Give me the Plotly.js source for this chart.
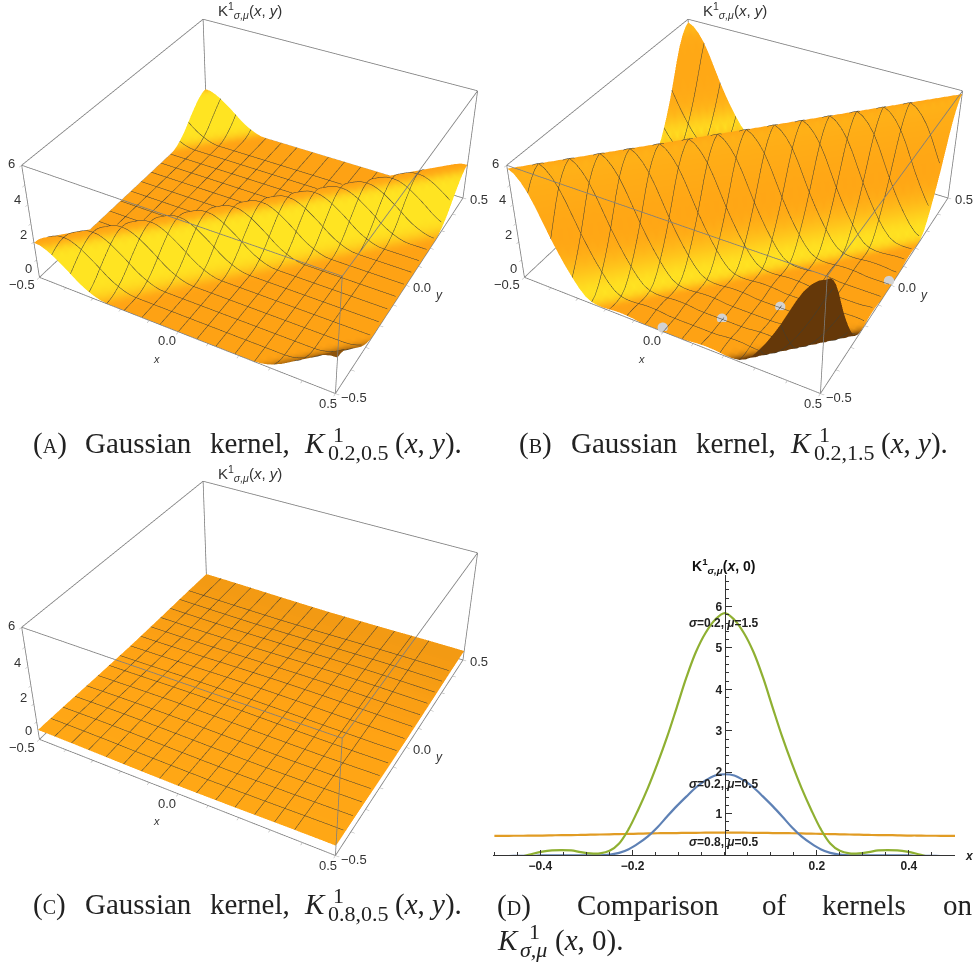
<!DOCTYPE html>
<html>
<head>
<meta charset="utf-8">
<script src="https://cdn.plot.ly/plotly-3.0.1.min.js"></script>
<style>
html,body{margin:0;padding:0;background:#fff}
#page{position:relative;width:977px;height:965px;overflow:hidden}
.clip{position:absolute;overflow:hidden;z-index:1}
.clip>div{position:absolute}
#c{position:absolute;left:0;top:0;width:977px;height:965px;z-index:2;pointer-events:none}
</style>
</head>
<body>
<div id="page">
<div class="clip" id="wa"><div id="pa"></div></div>
<div class="clip" id="wb"><div id="pb"></div></div>
<div class="clip" id="wc"><div id="pc"></div></div>
<div id="c"></div>
</div>
<script>
// kernel height against lag |x-y| in steps of 1/48
const lagSteps = [0,1,2,3,4,5,6,7,8,9,10,11,12,13,14,15,16,17,18,19,20,21,22,23,24];
const kernelBlue  = [1.95,1.92,1.80,1.63,1.41,1.18,0.93,0.67,0.45,0.28,0.14,0.05,0.01,-0.01,-0.01,-0.01,-0.01,-0.01,-0.01,-0.01,-0.02,-0.02,-0.02,-0.03,-0.03];
const kernelGreen = [5.84,5.68,5.36,4.90,4.28,3.56,2.85,2.21,1.62,1.10,0.63,0.28,0.10,0.04,0.04,0.07,0.11,0.12,0.11,0.08,0.03,-0.03,-0.07,-0.10,-0.11];
const kernelOrange= [0.54,0.54,0.54,0.535,0.535,0.53,0.53,0.525,0.52,0.515,0.51,0.505,0.50,0.495,0.49,0.485,0.48,0.48,0.475,0.47,0.47,0.465,0.465,0.46,0.46];

const toneAFront = [.55,.62,.88,1,1,1,1,1,1,.95,.85,.7,.58,.52,.5,.5,.5,.5,.5,.5,.5,.5,.5,.5,.5,.5,.5,.5,.5,.5,.5,.5,.5,.5,.5,.5,.5,.45,.35,.3,.25,.22,.2,.2,.18,.18,.15,.15,.15];
const toneABack  = [.55,.5,.5,.5,.5,.5,.5,.5,.5,.5,.5,.5,.5,.5,.5,.5,.5,.5,.5,.5,.5,.5,.5,.5,.5,.5,.5,.5,.5,.5,.5,.5,.5,.5,.5,.5,.52,.6,.8,.95,1,1,1,1,1,1,1,.9,.6];
const toneBFront = [.55,.62,.6,.58,.56,.54,.53,.55,.65,.8,.95,1,.9,.7,.55,.5,.5,.5,.5,.5,.5,.5,.5,.5,.5,.5,.5,.5,.5,.5,.5,.5,.5,.5,.45,.25,.03,.03,.03,.03,.03,.03,.03,.03,.03,.03,.03,.03,.03];
const toneBBack  = [.55,.5,.5,.5,.5,.5,.5,.5,.5,.5,.5,.5,.5,.5,.5,.5,.5,.5,.5,.5,.5,.5,.5,.5,.5,.5,.5,.5,.5,.5,.5,.5,.5,.5,.5,.5,.55,.7,.95,.85,.65,.58,.55,.55,.55,.55,.58,.7,.6];
// panel C's tone from the front row to the back row
const toneCRow = [.54,.54,.54,.54,.535,.535,.535,.53,.53,.53,.525,.525,.525,.52,.52,.52,.515,.515,.515,.51,.51,.51,.505,.505,.5,.5,.5,.495,.495,.49,.49,.49,.485,.485,.485,.48,.48,.48,.475,.475,.475,.47,.47,.47,.47,.465,.465,.465,.465];

// small pale gaps in panel B's surface
const gapX = [-0.006,0.126,0.252,0.49];
const gapY = [-0.494,-0.38,-0.254,0.005];
const gapZ = [0.14,0.14,0.14,0.14];

const zTicks = ['6','4','2','0'];
const xyTicks = ['−0.5','0.0','0.5'];
const dXTicks = [-0.4,-0.2,0.2,0.4];
const dXTickText = ['−0.4','−0.2','0.2','0.4'];
const dYTicks = [1,2,3,4,5,6];
const curveLabels = ['<i>σ</i>=0.2, <i>μ</i>=1.5','<i>σ</i>=0.2, <i>μ</i>=0.5','<i>σ</i>=0.8, <i>μ</i>=0.5'];
const xyRange = [-0.5,0.5];
const zRange = [0,6];

const W = 977, H = 965, S = 906;
const axisGrid = Array.from({length:49},(_,i)=>-0.5+i/48);
const lagIndex = k => { const m=((k%48)+48)%48; return Math.min(m,48-m); };
const surfaceZ = prof => axisGrid.map((_,j)=>axisGrid.map((_,i)=>Math.max(prof[lagIndex(i-j)],0.02)));
const surfaceTone = (front,back) => axisGrid.map((_,j)=>axisGrid.map((_,i)=>i>=j?front[i-j]:back[j-i]));
const rowTone = row => axisGrid.map((_,j)=>axisGrid.map(()=>row[j]));

const meshLine = {show:true,start:-0.4375,end:0.4375,size:0.0625,color:'#3f3d33',width:1};
function surf(prof,tone){
  return {type:'surface',x:axisGrid,y:axisGrid,z:surfaceZ(prof),surfacecolor:tone,
    cmin:0,cmax:1,showscale:false,hoverinfo:'skip',
    colorscale:[[0,'#5c3208'],[0.5,'#ffa214'],[1,'#ffe422']],
    lighting:{ambient:1,diffuse:0,specular:0,roughness:1,fresnel:0},
    contours:{x:meshLine,y:meshLine,z:{show:false}}};
}
// the twelve edges of the bounding box, taken from the axis ranges
function boxEdges(){
  const [a,b]=xyRange,[l,h]=zRange,X=[],Y=[],Z=[];
  const seg=(p,q)=>{X.push(p[0],q[0],null);Y.push(p[1],q[1],null);Z.push(p[2],q[2],null);};
  [[a,a],[b,a],[b,b],[a,b]].forEach((c,i,all)=>{
    const n=all[(i+1)%4];
    seg([c[0],c[1],l],[n[0],n[1],l]);
    seg([c[0],c[1],h],[n[0],n[1],h]);
    seg([c[0],c[1],l],[c[0],c[1],h]);
  });
  return {type:'scatter3d',mode:'lines',x:X,y:Y,z:Z,connectgaps:false,line:{color:'#7d7d7d',width:1.6},hoverinfo:'skip',showlegend:false};
}
function axis3(range,dtick){
  return {range,dtick,title:{text:''},showticklabels:false,showgrid:false,zeroline:false,showspikes:false,showbackground:false,
    showline:false,ticks:'outside',ticklen:3,tickcolor:'#aaa',autorange:false};
}
function panel(id,wrap,traces,cx,cy,rect){
  const w=document.getElementById(wrap), p=document.getElementById(id);
  w.style.left=rect[0]+'px';w.style.top=rect[1]+'px';w.style.width=(rect[2]-rect[0])+'px';w.style.height=(rect[3]-rect[1])+'px';
  p.style.left=(cx-S/2-rect[0])+'px';p.style.top=(cy-S/2-rect[1])+'px';p.style.width=S+'px';p.style.height=S+'px';
  Plotly.newPlot(id,traces.concat([boxEdges()]),{width:S,height:S,margin:{l:0,r:0,t:0,b:0},paper_bgcolor:'#fff',showlegend:false,
    scene:{domain:{x:[0,1],y:[0,1]},aspectmode:'manual',aspectratio:{x:1,y:1,z:0.42},
      camera:{eye:{x:1.3,y:-2.4,z:2},center:{x:0,y:0,z:0},up:{x:0,y:0,z:1},projection:{type:'perspective'}},
      xaxis:axis3(xyRange,0.1),yaxis:axis3(xyRange,0.1),zaxis:axis3(zRange,1)}},{displayModeBar:false});
}
panel('pa','wa',[surf(kernelBlue,surfaceTone(toneAFront,toneABack))],261,183,[0,0,488,416]);
panel('pb','wb',[surf(kernelGreen,surfaceTone(toneBFront,toneBBack)),
  {type:'scatter3d',mode:'markers',x:gapX,y:gapY,z:gapZ,marker:{size:6,color:'#d2d2d2',line:{width:0}},hoverinfo:'skip',showlegend:false}],746,183,[488,0,977,416]);
panel('pc','wc',[surf(kernelOrange,rowTone(toneCRow))],261,645,[0,466,488,880]);

const d = lagSteps.slice().reverse().map(s=>-s/48).concat(lagSteps.slice(1).map(s=>s/48));
const mirror = a => a.slice().reverse().concat(a.slice(1));
const greenShown = mirror(kernelGreen).map((v,i,a)=>(i===0||i===a.length-1)?null:v);
const traces = [
  {type:'scatter',mode:'lines',x:d,y:mirror(kernelOrange),cliponaxis:false,line:{color:'#e19c24',width:2.2,shape:'spline'},showlegend:false},
  {type:'scatter',mode:'lines',x:d,y:mirror(kernelBlue),cliponaxis:false,line:{color:'#5e81b5',width:2.2,shape:'spline'},showlegend:false},
  {type:'scatter',mode:'lines',x:d,y:greenShown,cliponaxis:false,line:{color:'#8fb032',width:2.2,shape:'spline'},showlegend:false}
];

const ann = [];
function T(text,x,y,size,o){ ann.push(Object.assign({xref:'paper',yref:'paper',x:x/W,y:1-y/H,text,showarrow:false,xanchor:'center',yanchor:'middle',font:{family:'Liberation Sans',size,color:'#333'}},o||{})); }
const offs = [[0,0],[485,0],[0,462]];
offs.forEach(([ox,oy])=>{
  T('K<sup>1</sup><sub><i>σ,μ</i></sub>(<i>x</i>, <i>y</i>)',250+ox,11+oy,15);
  [[zTicks[0],11,163],[zTicks[1],17,200],[zTicks[2],23,235],[zTicks[3],28,268]].forEach(t=>T(t[0],t[1]+ox,t[2]+oy,13));
  T(xyTicks[0],22+ox,285+oy,13);T(xyTicks[1],167+ox,341+oy,13);T(xyTicks[2],328+ox,403+oy,13);
  T(xyTicks[0],354+ox,397+oy,13);T(xyTicks[1],422+ox,287+oy,13);T(xyTicks[2],479+ox,199+oy,13);
  T('<i>x</i>',156+ox,359+oy,11);T('<i>y</i>',439+ox,295+oy,12);
});
const B = {font:{family:'Liberation Sans',size:12,color:'#222',weight:700}};
T('K<sup>1</sup><sub><i>σ,μ</i></sub>(<i>x</i>, 0)',723,566,14,{font:{family:'Liberation Sans',size:14,color:'#111',weight:700}});
T(curveLabels[0],724,623,12,B);T(curveLabels[1],724,784,12,B);T(curveLabels[2],724,842,12,B);
T('<i>x</i>',969,856,12,B);

const CF = {family:'Liberation Serif',size:29,color:'#222'};
const L = {xanchor:'left',font:CF};
const SM = {xanchor:'left',font:Object.assign({},CF,{size:22})};
function caption(tag,a,ox,oy){
  T('('+'<span style="font-size:20px">'+tag+'</span>)',31+ox,443+oy,29,L);
  T('Gaussian',83+ox,443+oy,29,L);
  T('kernel,',208+ox,443+oy,29,L);
  T('<i>K</i>',302+ox,443+oy,29,L);
  T('1',331+ox,434+oy,22,SM);
  T(a,326+ox,452+oy,22,SM);
  T('(<i>x</i>, <i>y</i>).',393+ox,443+oy,29,L);
}
caption('A','0.2,0.5',0,0);
caption('B','0.2,1.5',486,0);
caption('C','0.8,0.5',0,461);
T('(<span style="font-size:20px">D</span>)',495,905,29,L);
T('Comparison',575,905,29,L);T('of',760,905,29,L);T('kernels',820,905,29,L);T('on',941,905,29,L);
T('<i>K</i>',495,940,29,L);T('1',527,931,22,SM);T('<i>σ,μ</i>',518,949,22,SM);T('(<i>x</i>, 0).',553,940,29,L);

const layout = {
  width:W,height:H,margin:{l:0,r:0,t:0,b:0},paper_bgcolor:'rgba(0,0,0,0)',plot_bgcolor:'rgba(0,0,0,0)',showlegend:false,
  xaxis:{domain:[493/W,955/W],range:[-0.503,0.5],anchor:'y',tickvals:dXTicks,ticktext:dXTickText,ticks:'inside',ticklen:5,tickcolor:'#333',
    showgrid:false,zeroline:false,showline:true,linecolor:'#333',linewidth:1,
    tickfont:{family:'Liberation Sans',size:12,color:'#222',weight:700},minor:{dtick:0.05,tick0:0,ticks:'inside',ticklen:3,tickcolor:'#333'}},
  yaxis:{domain:[1-855/H,1-575/H],range:[0,6.76],anchor:'free',position:724.67/W,tickvals:dYTicks,ticks:'inside',ticklen:6,tickcolor:'#333',
    showgrid:false,zeroline:false,showline:true,linecolor:'#333',linewidth:1,
    tickfont:{family:'Liberation Sans',size:12,color:'#222',weight:700},minor:{dtick:0.2,tick0:0,ticks:'inside',ticklen:3,tickcolor:'#333'}},
  annotations:ann
};
Plotly.newPlot('c',traces,layout,{displayModeBar:false});
</script>
</body>
</html>
